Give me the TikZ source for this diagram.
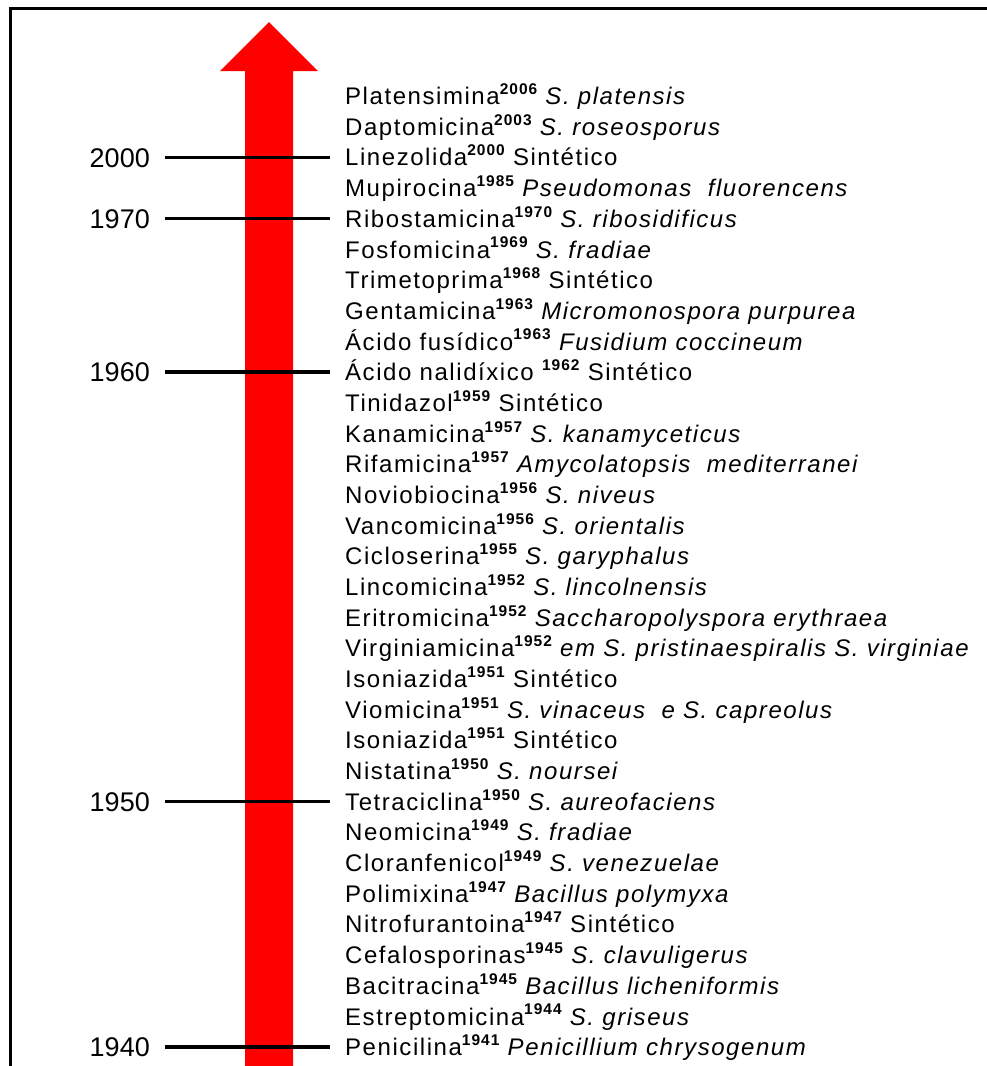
\documentclass[tikz,border=0pt]{standalone}
\usepackage{fontspec}
\setmainfont{Liberation Sans}
\newfontfamily\entfont[LetterSpace=6.5]{Liberation Sans}
\newcommand\ysup[1]{\raisebox{0.42em}{\fontsize{15.5}{16}\selectfont\bfseries #1}}
\begin{document}
\begin{tikzpicture}[x=1pt,y=-1pt,
  entry/.style={anchor=west, inner sep=0pt, font=\entfont\fontsize{24}{28}\selectfont, text height=17.2pt, text depth=0pt},
  yearlbl/.style={anchor=east, inner sep=0pt, font=\fontsize{27}{31}\selectfont, text height=19.3pt, text depth=0pt},
  tick/.style={line width=3.5pt},
  frame/.style={line width=3pt}]
\useasboundingbox (0,0) rectangle (986,1066);
\fill[white] (0,0) rectangle (986,1066);
\draw[frame] (10,1075) -- (10,8) -- (995,8);
\fill[red] (245,1075) -- (245,71) -- (220,71) -- (269,22) -- (318,71) -- (293,71) -- (293,1075) -- cycle;
\foreach [count=\i] \t in {
  {Platensimina\ysup{2006} \textit{S. platensis}},
  {Daptomicina\ysup{2003} \textit{S. roseosporus}},
  {Linezolida\ysup{2000} Sintético},
  {Mupirocina\ysup{1985} \textit{Pseudomonas\ \ fluorencens}},
  {Ribostamicina\ysup{1970} \textit{S. ribosidificus}},
  {Fosfomicina\ysup{1969} \textit{S. fradiae}},
  {Trimetoprima\ysup{1968} Sintético},
  {Gentamicina\ysup{1963} \textit{Micromonospora purpurea}},
  {Ácido fusídico\ysup{1963} \textit{Fusidium coccineum}},
  {Ácido nalidíxico \ysup{1962} Sintético},
  {Tinidazol\ysup{1959} Sintético},
  {Kanamicina\ysup{1957} \textit{S. kanamyceticus}},
  {Rifamicina\ysup{1957} \textit{Amycolatopsis\ \ mediterranei}},
  {Noviobiocina\ysup{1956} \textit{S. niveus}},
  {Vancomicina\ysup{1956} \textit{S. orientalis}},
  {Cicloserina\ysup{1955} \textit{S. garyphalus}},
  {Lincomicina\ysup{1952} \textit{S. lincolnensis}},
  {Eritromicina\ysup{1952} \textit{Saccharopolyspora erythraea}},
  {Virginiamicina\ysup{1952} \textit{em S. pristinaespiralis S. virginiae}},
  {Isoniazida\ysup{1951} Sintético},
  {Viomicina\ysup{1951} \textit{S. vinaceus\ \ e S. capreolus}},
  {Isoniazida\ysup{1951} Sintético},
  {Nistatina\ysup{1950} \textit{S. noursei}},
  {Tetraciclina\ysup{1950} \textit{S. aureofaciens}},
  {Neomicina\ysup{1949} \textit{S. fradiae}},
  {Cloranfenicol\ysup{1949} \textit{S. venezuelae}},
  {Polimixina\ysup{1947} \textit{Bacillus polymyxa}},
  {Nitrofurantoina\ysup{1947} Sintético},
  {Cefalosporinas\ysup{1945} \textit{S. clavuligerus}},
  {Bacitracina\ysup{1945} \textit{Bacillus licheniformis}},
  {Estreptomicina\ysup{1944} \textit{S. griseus}},
  {Penicilina\ysup{1941} \textit{Penicillium chrysogenum}}}
  \node[entry] (r\i) at (345,{96+(\i-1)*30.68}) {\t};
\foreach \yv/\r in {2000/3,1970/5,1960/10,1950/24,1940/32}{
  \node[yearlbl] (y\yv) at (150,{96+(\r-1)*30.68}) {\yv};
  \draw[tick] ([xshift=15pt]y\yv.east) -- ([xshift=-15pt]r\r.west);
}
\end{tikzpicture}
\end{document}
